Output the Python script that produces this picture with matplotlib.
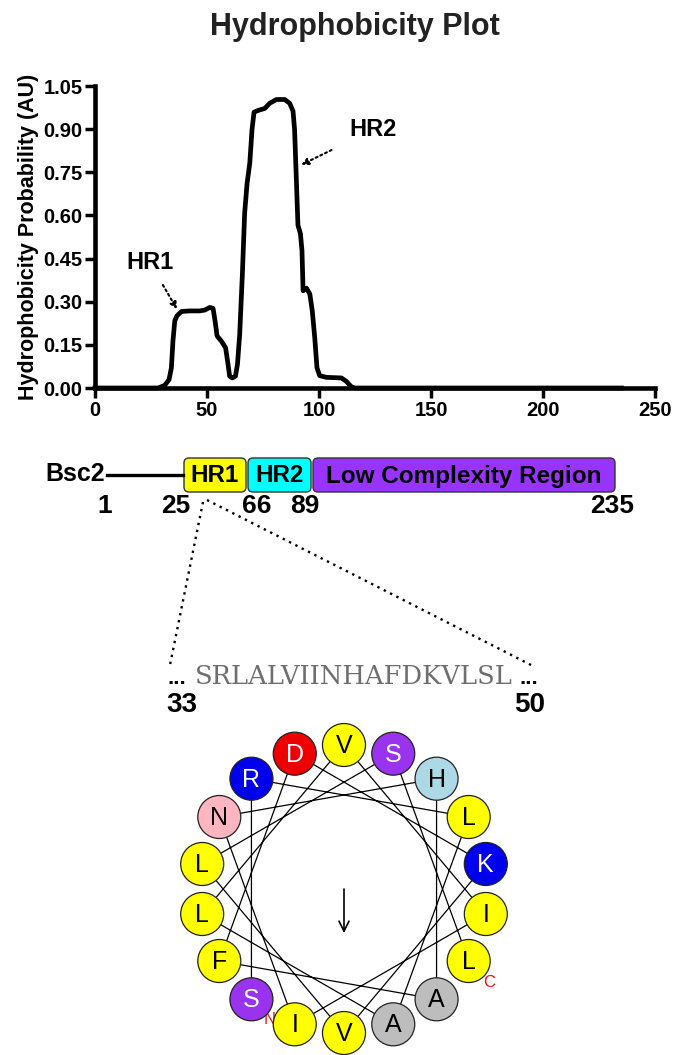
import matplotlib
matplotlib.use('Agg')
import matplotlib.pyplot as plt
import numpy as np
from matplotlib.patches import Circle, FancyBboxPatch

plt.rcParams['font.family'] = ['Liberation Sans', 'DejaVu Sans']

# ---------------- data ----------------
position = [0, 28.1, 31.1, 33.05, 34.1, 34.8, 35.6, 36.6, 38.6, 42.3, 46.7, 49.0, 51.2, 52.7,
            53.6, 54.5, 56.4, 58.3, 59.4, 60.1, 61.3, 62.7, 63.6, 64.6, 65.8, 66.8, 67.9,
            69.1, 70.1, 71.0, 72.8, 75.8, 78.0, 81.0, 84.7, 86.9, 88.4, 89.1, 89.9, 90.6,
            91.7, 92.4, 92.9, 94.4, 95.9, 97.0, 98.1, 99.1, 100.3, 103.3, 110.0, 112.2,
            114.5, 116.0, 235]
hydrophobicity = [0, 0, 0.009, 0.029, 0.070, 0.163, 0.233, 0.251, 0.266, 0.268, 0.268, 0.271,
                  0.280, 0.277, 0.233, 0.181, 0.163, 0.140, 0.082, 0.041, 0.035, 0.041, 0.082,
                  0.187, 0.397, 0.607, 0.712, 0.782, 0.899, 0.959, 0.965, 0.972, 0.990, 1.003,
                  1.003, 0.990, 0.963, 0.898, 0.723, 0.566, 0.537, 0.478, 0.338, 0.347, 0.327,
                  0.268, 0.175, 0.070, 0.043, 0.037, 0.035, 0.023, 0.004, 0, 0]
yticks = [0.00, 0.15, 0.30, 0.45, 0.60, 0.75, 0.90, 1.05]
xticks = [0, 50, 100, 150, 200, 250]

protein_name = 'Bsc2'
domain_labels = ['HR1', 'HR2', 'Low Complexity Region']
domain_colors = ['#ffff00', '#00ffff', '#9933ff']
boundary_labels = ['1', '25', '66', '89', '235']

sequence = 'SRLALVIINHAFDKVLSL'
seq_start, seq_end = '33', '50'
residue_colors = {'L': '#ffff00', 'V': '#ffff00', 'I': '#ffff00', 'F': '#ffff00',
                  'S': '#9933ee', 'R': '#0000ee', 'K': '#0000ee', 'D': '#ee0000',
                  'N': '#ffb6c1', 'H': '#add8e6', 'A': '#bdbdbd'}
white_text = {'S', 'R', 'K', 'D'}

W, H = 674, 1055
fig = plt.figure(figsize=(W / 100, H / 100), dpi=100)

# ---------------- hydrophobicity plot ----------------
ax = fig.add_axes([95 / W, 1 - 388 / H, 560 / W, 302 / H])
ax.plot(position, hydrophobicity, color='black', lw=3.4, clip_on=False,
        solid_joinstyle='round', zorder=3)
ax.set_xlim(0, 250)
ax.set_ylim(0, 1.05)
ax.set_xticks(xticks)
ax.set_yticks(yticks)
ax.set_yticklabels([f'{v:.2f}' for v in yticks])
for s in ['top', 'right']:
    ax.spines[s].set_visible(False)
for s in ['left', 'bottom']:
    ax.spines[s].set_linewidth(3.3)
ax.tick_params(axis='both', direction='out', length=7, width=2.5, labelsize=14.5, pad=2)
for lab in ax.get_xticklabels() + ax.get_yticklabels():
    lab.set_fontweight('bold')
ax.set_ylabel('Hydrophobicity Probability (AU)', fontsize=15.5, fontweight='bold', labelpad=3)
fig.text(355 / W, 1 - 27 / H, 'Hydrophobicity Plot', ha='center', va='center',
         fontsize=22, fontweight='bold', color='#222222')

arrow_kw = dict(arrowstyle='-|>', linestyle=(0, (1, 1.5)), lw=1.5, color='black',
                mutation_scale=10, shrinkA=0, shrinkB=0)
ax.annotate('HR1', xy=(36.6, 0.274), xytext=(24.4, 0.437), fontsize=17,
            fontweight='bold', ha='center', va='center',
            arrowprops=dict(arrow_kw, shrinkA=7))
ax.annotate('HR2', xy=(92.1, 0.776), xytext=(124.1, 0.898), fontsize=17,
            fontweight='bold', ha='center', va='center',
            arrowprops=dict(arrow_kw, shrinkA=12))

# ---------------- overlay (pixel coordinates) ----------------
ov = fig.add_axes([0, 0, 1, 1])
ov.set_xlim(0, W)
ov.set_ylim(H, 0)
ov.axis('off')
ov.patch.set_alpha(0)

# domain schematic
bar_y, bar_h = 458, 34
edges = [183, 247, 312, 616]
ov.plot([107, edges[0]], [bar_y + bar_h / 2] * 2, color='black', lw=2.4)
ov.text(105, bar_y + bar_h / 2 - 1, protein_name, ha='right', va='center', fontsize=18,
        fontweight='bold')
for i, (lab, col) in enumerate(zip(domain_labels, domain_colors)):
    x0, x1 = edges[i], edges[i + 1]
    ov.add_patch(FancyBboxPatch((x0 + 1, bar_y), x1 - x0 - 2, bar_h,
                                boxstyle='round,pad=0,rounding_size=5',
                                fc=col, ec='#333333', lw=1.0))
    ov.text((x0 + x1) / 2, bar_y + bar_h / 2 + 1, lab, ha='center', va='center',
            fontsize=17.5, fontweight='bold')
label_x = [105, 176, 257, 305, 612]
for lx, lab in zip(label_x, boundary_labels):
    ov.text(lx, 506, lab, ha='center', va='center', fontsize=19, fontweight='bold')

# zoom lines
dot_kw = dict(color='black', lw=1.7, linestyle=(0, (1, 2)))
ov.plot([203, 170], [502, 665], **dot_kw)
ov.plot([207, 533], [500, 666], **dot_kw)

# sequence
ov.text(177, 684, '...', ha='center', va='baseline', fontsize=16, fontweight='bold')
ov.text(529, 684, '...', ha='center', va='baseline', fontsize=16, fontweight='bold')
ov.text(354, 684, sequence, ha='center', va='baseline', fontsize=18.6,
        family='DejaVu Serif', color='#6e6e6e')
ov.text(182, 705, seq_start, ha='center', va='center', fontsize=20, fontweight='bold')
ov.text(530, 705, seq_end, ha='center', va='center', fontsize=20, fontweight='bold')

# helical wheel
cx, cy, R, rc = 344, 889, 144, 21.5
ang = np.deg2rad(-130 - 100 * np.arange(len(sequence)))
xs = cx + R * np.cos(ang)
ys = cy - R * np.sin(ang)
ov.plot(xs, ys, color='black', lw=0.9, zorder=2)
for x, y, aa in zip(xs, ys, sequence):
    ov.add_patch(Circle((x, y), rc, fc=residue_colors[aa], ec='#222222', lw=0.9, zorder=3))
    ov.text(x, y + 1, aa, ha='center', va='center', fontsize=18, zorder=4,
            color='white' if aa in white_text else 'black')
ov.text(xs[0] + 18, ys[0] + 20, 'N', color='#ee1111', fontsize=12, ha='center',
        va='center', zorder=2.5)
ov.text(xs[-1] + 20, ys[-1] + 22, 'C', color='#ee1111', fontsize=12, ha='center',
        va='center', zorder=4)
ov.annotate('', xy=(cx, cy + 44), xytext=(cx, cy),
            arrowprops=dict(arrowstyle='->', lw=1.2, color='black', mutation_scale=18,
                            shrinkA=0, shrinkB=0))

fig.savefig('out.png', dpi=100)
